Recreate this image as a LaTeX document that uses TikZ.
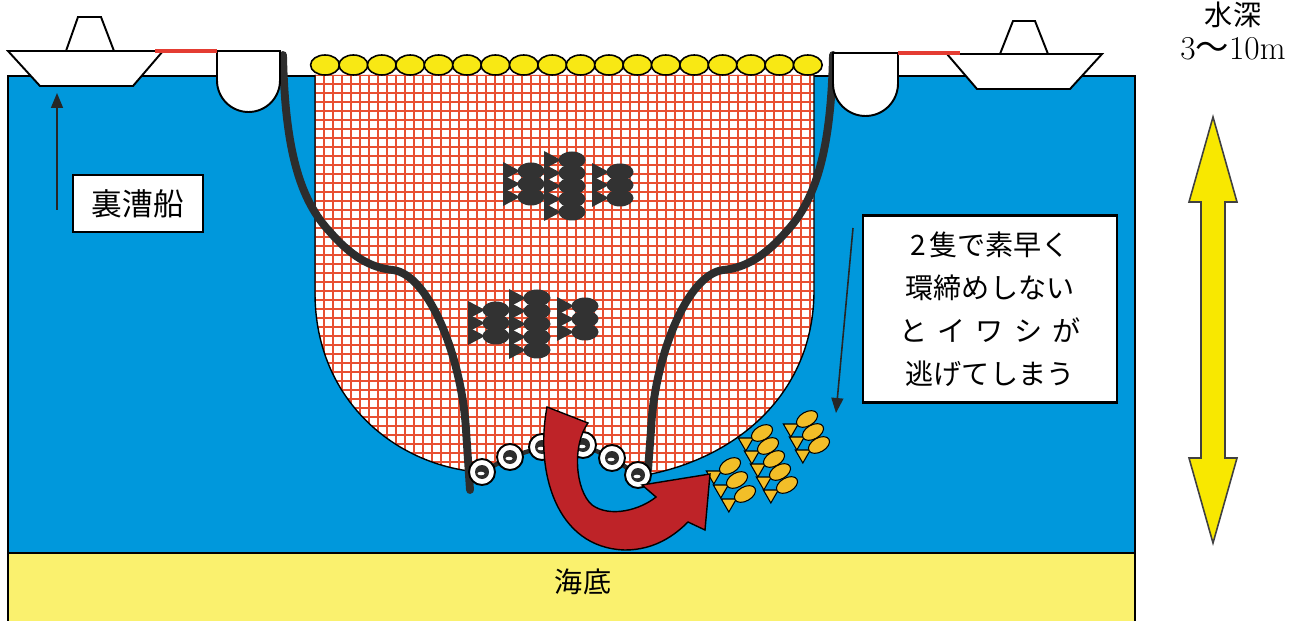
\documentclass[tikz,border=0pt]{standalone}
\usepackage{fontspec}
\newfontfamily\jp{Noto Sans CJK JP}
\usetikzlibrary{arrows.meta}

\definecolor{sea}{RGB}{0,152,220}
\definecolor{seabed}{RGB}{250,241,110}
\definecolor{floatyellow}{RGB}{248,232,20}
\definecolor{arrowyellow}{RGB}{248,232,0}
\definecolor{meshred}{RGB}{232,80,50}
\definecolor{ropegray}{RGB}{45,45,45}
\definecolor{fishdark}{RGB}{50,50,50}
\definecolor{arrowred}{RGB}{190,35,40}
\definecolor{moorred}{RGB}{228,60,50}
\definecolor{fishgold}{RGB}{242,190,40}

\tikzset{
  outline/.style={draw=black, line width=1.1pt},
  rope/.style={draw=ropegray, line width=4.5pt, line cap=round},
  meshline/.style={draw=meshred, line width=1.15pt},
  floatball/.style={fill=floatyellow, draw=black, line width=0.9pt},
  labelbox/.style={fill=white, draw=black, line width=1.2pt, inner sep=0pt},
  thinarrow/.style={draw=black!85, line width=0.9pt, -{Triangle[length=3mm,width=2.4mm]}},
  darkfish/.pic={
    \fill[fishdark] (-28,-9) -- (-28,9) -- (-11,0) -- cycle;
    \fill[fishdark] (0,0) ellipse[x radius=13.5, y radius=8.5];
  },
  goldfish/.pic={
    \filldraw[fill=fishgold, draw=black, line width=0.6pt] (-23,-7.5) -- (-23,7.5) -- (-10,0) -- cycle;
    \filldraw[fill=fishgold, draw=black, line width=0.6pt] (0,0) ellipse[x radius=11.5, y radius=7];
  },
  netring/.pic={
    \filldraw[fill=white, draw=black, line width=1.1pt] (0,0) circle[radius=13];
    \fill[ropegray] (0,0) circle[radius=7];
    \fill[white] (-1,1.5) ellipse[x radius=3.5, y radius=1.8];
  }
}

\begin{document}
\begin{tikzpicture}[x=0.02cm, y=-0.02cm]
\useasboundingbox (0,0) rectangle (1308,621);

% water and sea floor
\filldraw[fill=sea, draw=black, line width=1pt] (8,76) rectangle (1135,553);
\filldraw[fill=seabed, draw=black, line width=1pt] (8,553) rectangle (1135,628);
\node[font={\jp\fontsize{16}{18}\selectfont}] (seabedlabel) at (583,582) {海底};

% the net: white panel with red mesh
\begin{scope}
  \clip (315,75) -- (315,295) .. controls (316,400) and (395,465) .. (478,472)
        -- (510,457) -- (542,447) -- (583,445) -- (612,458) -- (640,476)
        .. controls (728,462) and (814,400) .. (814,290) -- (814,75) -- cycle;
  \fill[white] (300,60) rectangle (820,500);
  \foreach \x in {315,324,...,815} \draw[meshline] (\x,70) -- (\x,495);
  \foreach \y in {75,84,...,495} \draw[meshline] (300,\y) -- (820,\y);
\end{scope}
\draw[black, line width=0.8pt] (315,75) -- (315,295) .. controls (316,400) and (395,465) .. (478,472);
\draw[black, line width=0.8pt] (640,476) .. controls (728,462) and (814,400) .. (814,290) -- (814,75);

% sardine schools inside the net
\foreach \y in {171,184,197} \pic at (531,\y) {darkfish};
\foreach \y in {160,173,186,199,212} \pic at (572,\y) {darkfish};
\foreach \y in {172,185,198} \pic at (620,\y) {darkfish};

\foreach \y in {310,323,336} \pic at (496,\y) {darkfish};
\foreach \y in {298,311,324,337,350} \pic at (537,\y) {darkfish};
\foreach \y in {306,319,332} \pic at (585,\y) {darkfish};

% purse lines
\draw[rope] (283,55) .. controls (285,150) and (300,200) .. (330,232)
            .. controls (350,255) and (370,268) .. (393,270)
            .. controls (430,275) and (462,360) .. (466,430) -- (470,490);
\draw[rope] (833,55) .. controls (831,150) and (816,200) .. (786,232)
            .. controls (766,255) and (746,268) .. (723,270)
            .. controls (686,275) and (654,360) .. (651,430) -- (648,470);

% ring chain at the bottom of the net
\draw[ropegray, line width=2.5pt] (482,472) -- (510,457) -- (542,447) -- (583,445) -- (612,458) -- (638,475);
\foreach \x/\y in {482/472,510/457,542/447,583/445,612/458,638/475}
  \pic at (\x,\y) {netring};

% cork line floats
\foreach \i in {0,...,17}
  \draw[floatball] ({325+28.4*\i},65) ellipse[x radius=14.4, y radius=10];

% escaping sardines
\foreach \x/\y in {807/419,813/432,819/445,
                   762/433,768/446,774/459,780/472,787/485,
                   730/466,737/480,745/494}
  \pic[rotate=30] at (\x,\y) {goldfish};

% escape arrow
\filldraw[fill=arrowred, draw=black, line width=0.8pt]
  (547,407) .. controls (535,470) and (555,548) .. (625,550)
  .. controls (655,550) and (675,535) .. (688,522)
  -- (705,530) -- (710,474) -- (642,485) -- (656,497)
  .. controls (640,510) and (610,518) .. (592,505)
  .. controls (575,490) and (572,445) .. (588,423) -- cycle;

% buoys
\filldraw[fill=white, outline] (217,51) -- (217,80.5) arc[start angle=180, end angle=0, radius=31.5] -- (280,51) -- cycle;
\filldraw[fill=white, outline] (833,53) -- (833,83.5) arc[start angle=180, end angle=0, radius=32.5] -- (898,53) -- cycle;

% left boat
\filldraw[fill=white, outline] (66,51) -- (78,17) -- (101,17) -- (114,51) -- cycle;
\filldraw[fill=white, outline] (8,51) -- (163,51) -- (133,86) -- (40,86) -- cycle;
\draw[moorred, line width=1.8pt] (155,51) -- (217,51);

% right boat
\filldraw[fill=white, outline] (1000,54) -- (1013,21) -- (1035,21) -- (1048,54) -- cycle;
\filldraw[fill=white, outline] (947,54) -- (1102,54) -- (1070,89) -- (977,89) -- cycle;
\draw[moorred, line width=1.8pt] (898,53) -- (960,53);

% labels in the water
\node[labelbox, minimum width=2.6cm, minimum height=1.14cm,
      font={\jp\fontsize{17.5}{20}\selectfont}] (uralabel) at (138,203.5) {裏漕船};
\coordinate (uratail) at (57,210);
\coordinate (uratip) at (57,93);
\draw[thinarrow] (uratail) -- (uratip);

\node[labelbox, minimum width=5.08cm, minimum height=3.74cm, align=center,
      font={\jp\fontsize{16}{24.4}\selectfont}] (notebox) at (990,309)
  {2\hspace{0.12em}隻で素早く\\
   環締めしない\\
   と\hspace{0.36em}イ\hspace{0.36em}ワ\hspace{0.36em}シ\hspace{0.36em}が\\
   逃げてしまう};
\coordinate (notetail) at (853,228);
\coordinate (notetip) at (836,413);
\draw[thinarrow] (notetail) -- (notetip);

% depth scale
\node[font={\jp\fontsize{16}{18}\selectfont}] (depthword) at (1233,15) {水深};
\node[font={\fontsize{19}{21}\selectfont}] (depthvalue) at (1233,49) {3{\jp 〜}10m};
\filldraw[fill=arrowyellow, draw=black!75, line width=0.9pt]
  (1213,117) -- (1237,202) -- (1225,202) -- (1225,458) -- (1237,458) -- (1213,543)
  -- (1189,458) -- (1201,458) -- (1201,202) -- (1189,202) -- cycle;
\end{tikzpicture}
\end{document}
